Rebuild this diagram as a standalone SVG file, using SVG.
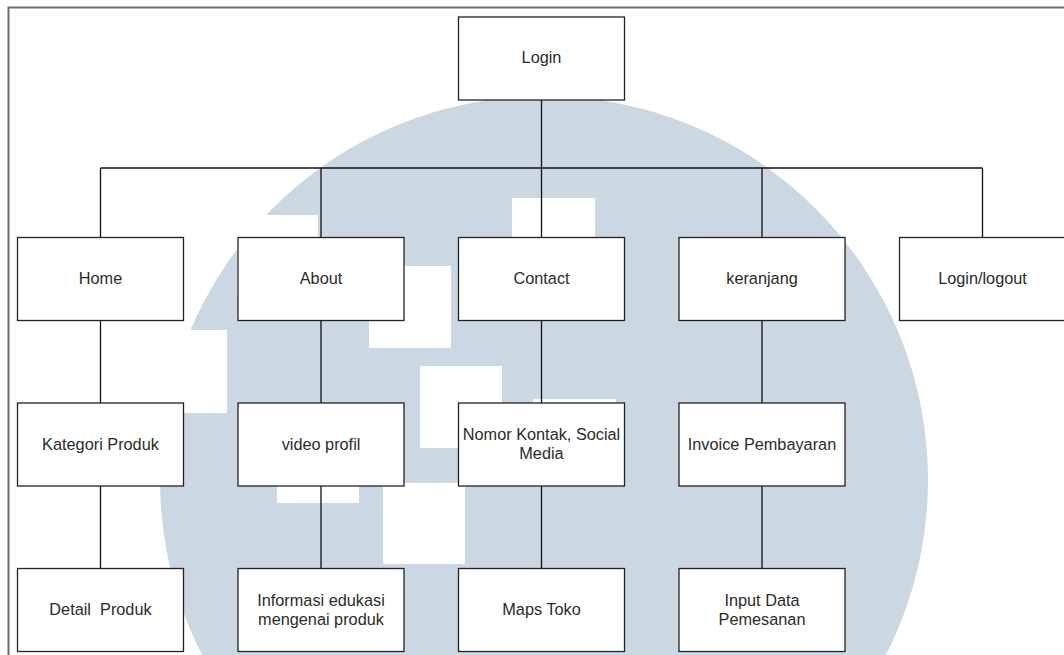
<svg xmlns="http://www.w3.org/2000/svg" width="1064" height="655" viewBox="0 0 1064 655">
  <style>
    .box { fill: #ffffff; stroke: #222222; stroke-width: 1.3; }
    .lbl { font-family: "Liberation Sans", Arial, sans-serif; font-size: 16.3px; fill: #2b2b2b; text-anchor: middle; white-space: pre; }
    .wire { fill: none; stroke: #111111; stroke-width: 1.3; }
    .frame { fill: none; stroke: #6e6e6e; stroke-width: 2; }
    .mark { fill: #cbd7e2; }
    .cut { fill: #ffffff; }
  </style>

  <rect x="0" y="0" width="1064" height="655" fill="#ffffff"/>

  <!-- background emblem: disc with square cut-outs -->
  <g id="emblem">
    <circle class="mark" cx="544" cy="480" r="384"/>
    <rect class="cut" x="237" y="215" width="81" height="82"/>
    <rect class="cut" x="145" y="330" width="82" height="83"/>
    <rect class="cut" x="369" y="266" width="82" height="82"/>
    <rect class="cut" x="512" y="198" width="83" height="83"/>
    <rect class="cut" x="420" y="366" width="82" height="82"/>
    <rect class="cut" x="533" y="399" width="83" height="83"/>
    <rect class="cut" x="277" y="421" width="82" height="82"/>
    <rect class="cut" x="383" y="483" width="82" height="81"/>
  </g>

  <!-- page frame -->
  <polyline class="frame" points="8.5,655 8.5,7.5 1064,7.5"/>

  <!-- connectors -->
  <g id="connectors">
    <path class="wire" d="M541.5,100 V168"/>
    <path class="wire" d="M100.5,168 H982.5"/>
    <path class="wire" d="M100.5,168 V237.5 M321,168 V237.5 M541.5,168 V237.5 M762,168 V237.5 M982.5,168 V237.5"/>
    <path class="wire" d="M100.5,320.5 V403 M321,320.5 V403 M541.5,320.5 V403 M762,320.5 V403"/>
    <path class="wire" d="M100.5,486 V568.5 M321,486 V568.5 M541.5,486 V568.5 M762,486 V568.5"/>
  </g>

  <!-- root -->
  <g id="login">
    <rect class="box" x="458.5" y="17" width="166" height="83"/>
    <text class="lbl" x="541.5" y="63">Login</text>
  </g>

  <!-- first level -->
  <g id="home">
    <rect class="box" x="17.5" y="237.5" width="166" height="83"/>
    <text class="lbl" x="100.5" y="283.5">Home</text>
  </g>
  <g id="about">
    <rect class="box" x="238" y="237.5" width="166" height="83"/>
    <text class="lbl" x="321" y="283.5">About</text>
  </g>
  <g id="contact">
    <rect class="box" x="458.5" y="237.5" width="166" height="83"/>
    <text class="lbl" x="541.5" y="283.5">Contact</text>
  </g>
  <g id="keranjang">
    <rect class="box" x="679" y="237.5" width="166" height="83"/>
    <text class="lbl" x="762" y="283.5">keranjang</text>
  </g>
  <g id="login-logout">
    <rect class="box" x="899.5" y="237.5" width="166" height="83"/>
    <text class="lbl" x="982.5" y="283.5">Login/logout</text>
  </g>

  <!-- second level -->
  <g id="kategori-produk">
    <rect class="box" x="17.5" y="403" width="166" height="83"/>
    <text class="lbl" x="100.5" y="449.5">Kategori Produk</text>
  </g>
  <g id="video-profil">
    <rect class="box" x="238" y="403" width="166" height="83"/>
    <text class="lbl" x="321" y="449.5">video profil</text>
  </g>
  <g id="nomor-kontak">
    <rect class="box" x="458.5" y="403" width="166" height="83"/>
    <text class="lbl" x="541.5" y="440">Nomor Kontak, Social</text>
    <text class="lbl" x="541.5" y="459">Media</text>
  </g>
  <g id="invoice">
    <rect class="box" x="679" y="403" width="166" height="83"/>
    <text class="lbl" x="762" y="449.5">Invoice Pembayaran</text>
  </g>

  <!-- third level -->
  <g id="detail-produk">
    <rect class="box" x="17.5" y="568.5" width="166" height="83"/>
    <text class="lbl" x="100.5" y="615">Detail  Produk</text>
  </g>
  <g id="informasi-edukasi">
    <rect class="box" x="238" y="568.5" width="166" height="83"/>
    <text class="lbl" x="321" y="605.5">Informasi edukasi</text>
    <text class="lbl" x="321" y="624.5">mengenai produk</text>
  </g>
  <g id="maps-toko">
    <rect class="box" x="458.5" y="568.5" width="166" height="83"/>
    <text class="lbl" x="541.5" y="615">Maps Toko</text>
  </g>
  <g id="input-data">
    <rect class="box" x="679" y="568.5" width="166" height="83"/>
    <text class="lbl" x="762" y="605.5">Input Data</text>
    <text class="lbl" x="762" y="624.5">Pemesanan</text>
  </g>
</svg>
